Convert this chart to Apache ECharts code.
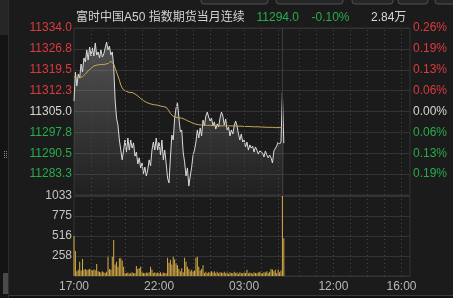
<!DOCTYPE html>
<html><head><meta charset="utf-8">
<script src="https://cdn.jsdelivr.net/npm/echarts@6/dist/echarts.min.js"></script>
<style>html,body{margin:0;padding:0;background:#1b1b1b;overflow:hidden}#c{width:453px;height:298px}</style>
</head><body><div id="c"></div>
<script>
const titleText = '富时中国A50 指数期货当月连续';
const lastPriceText = '11294.0';
const changeText = '-0.10%';
const volumeText = '2.84万';
const basePrice = 11305.0;
const stepMinutes = 5;
const sessionBreak = 735;
const axisMaxMinutes = 1185;
const priceHalfRange = 29;
const priceInterval = 7.25;
const volMax = 1033;

const prices = [
11308.6,11318.7,11313.9,11318.0,11316.6,11321.5,11318.7,11323.6,11322.2,11326.4,
11322.9,11327.4,11324.3,11327.1,11324.3,11328.8,11324.6,11325.7,11323.6,11326.4,
11323.9,11325.0,11327.1,11329.1,11326.4,11327.7,11324.6,11325.7,11320.8,11309.0,
11302.7,11300.3,11295.1,11291.6,11288.2,11291.6,11295.1,11290.9,11295.8,11291.6,
11295.1,11292.3,11294.1,11289.5,11290.9,11286.8,11288.9,11285.4,11287.1,11283.3,
11285.7,11282.6,11284.7,11288.2,11286.1,11291.6,11294.4,11291.6,11295.8,11291.6,
11294.4,11289.9,11295.1,11288.2,11291.6,11287.1,11281.9,11280.2,11288.9,11296.8,
11295.1,11302.7,11306.2,11308.0,11302.7,11297.9,11298.6,11290.9,11287.5,11282.6,
11285.4,11279.1,11282.6,11285.7,11289.9,11291.6,11294.4,11298.6,11295.8,11299.3,
11296.5,11302.0,11300.0,11303.4,11304.8,11303.1,11301.7,11302.7,11300.0,11301.4,
11298.9,11300.7,11299.6,11302.7,11304.8,11303.4,11300.3,11302.4,11298.6,11299.6,
11296.5,11298.6,11297.2,11300.0,11301.7,11300.0,11297.2,11295.1,11297.2,11294.4,
11295.1,11292.7,11294.4,11291.6,11293.4,11292.3,11293.0,11290.9,11292.7,11291.6,
11290.2,11291.3,11291.6,11290.6,11289.2,11291.3,11289.9,11288.9,11289.9,11288.9,
11287.1,11291.3,11291.6,11293.0,11294.4,11293.7,11294.4,11311.4,11294.0
];

const avgPrices = [
11317.1,11316.8,11316.6,11316.6,11316.8,11317.0,11317.1,11317.3,11318.0,11318.5,
11319.1,11319.4,11320.0,11320.5,11320.8,11321.0,11321.1,11321.2,11321.3,11321.3,
11321.3,11321.3,11321.4,11321.6,11321.7,11322.0,11322.4,11322.5,11321.5,11320.1,
11318.7,11317.3,11315.9,11314.2,11313.2,11312.5,11312.1,11312.0,11311.8,11311.6,
11311.6,11311.6,11311.4,11311.1,11310.7,11310.4,11309.9,11309.5,11309.2,11308.8,
11308.5,11308.2,11308.0,11307.8,11307.6,11307.5,11307.4,11307.3,11307.3,11307.2,
11307.0,11306.9,11306.8,11306.7,11306.6,11306.5,11306.0,11305.2,11304.3,11303.8,
11303.3,11303.1,11303.0,11302.9,11302.8,11302.7,11302.7,11302.6,11302.3,11302.0,
11301.8,11301.6,11301.4,11301.1,11300.9,11300.7,11300.6,11300.5,11300.4,11300.3,
11300.3,11300.3,11300.3,11300.2,11300.2,11300.2,11300.2,11300.2,11300.1,11300.1,
11300.1,11300.1,11300.1,11300.0,11300.0,11300.0,11300.0,11300.0,11300.0,11300.0,
11300.0,11300.0,11300.0,11300.0,11300.0,11299.9,11299.9,11299.9,11299.9,11299.9,
11299.8,11299.8,11299.8,11299.8,11299.8,11299.7,11299.7,11299.7,11299.7,11299.7,
11299.7,11299.6,11299.6,11299.6,11299.6,11299.5,11299.5,11299.5,11299.5,11299.5,
11299.5,11299.4,11299.4,11299.4,11299.4,11299.4,11299.4,11299.5,11299.4
];

const volumes = [
516,323,60,80,185,70,220,80,90,75,
85,90,80,70,85,75,155,60,55,45,
60,50,40,55,250,90,80,250,465,150,
185,120,230,230,200,120,40,35,45,30,
40,50,35,40,130,90,100,120,50,40,
35,45,40,50,120,80,40,50,35,45,
40,50,30,45,40,35,235,170,210,150,
250,215,160,140,90,60,100,50,235,185,
120,90,60,80,55,70,235,250,120,70,
90,140,40,55,35,50,45,60,45,60,
40,55,35,50,45,40,55,35,45,30,
50,40,35,55,40,45,30,50,40,35,
45,40,80,35,45,40,30,50,40,35,
45,55,40,35,50,45,60,40,55,90,
85,60,80,40,85,50,70,1033,487
];

const priceTickLabels = ['', '11283.3', '11290.5', '11297.8', '11305.0', '11312.3', '11319.5', '11326.8', '11334.0'];
const pctTickLabels = ['', '0.19%', '0.13%', '0.06%', '0.00%', '0.06%', '0.13%', '0.19%', '0.26%'];
const volTickLabels = ['', '258', '516', '775', '1033'];
const timeTickMinutes = [0, 300, 600, 915, 1155];
const timeTickLabels = ['17:00', '22:00', '03:00', '12:00', '16:00'];

const RED = '#dd3a3f', GREEN = '#27ad4c', WHITE = '#d6d6d0';
const FONT = "'Liberation Sans','Noto Sans CJK SC',sans-serif";

const hourMarks = [];
for (let m = 60; m < sessionBreak; m += 60) hourMarks.push(m);
for (let m = sessionBreak + 60; m < axisMaxMinutes; m += 60) hourMarks.push(m);
const dotStyle = { type: [1, 3], color: '#484848', width: 1 };
const markLineData = hourMarks.map(m => ({ xAxis: m, lineStyle: dotStyle }))
  .concat([{ xAxis: sessionBreak, lineStyle: { type: 'solid', color: '#3c3c3c', width: 1 } }]);
const markLineOpt = { silent: true, symbol: 'none', label: { show: false }, animation: false, data: markLineData };

const tickIdx = v => Math.round((v + priceHalfRange) / priceInterval);
const signColor = v => v > 1e-9 ? RED : (v < -1e-9 ? GREEN : WHITE);

const chart = echarts.init(document.getElementById('c'), null, { renderer: 'canvas' });
chart.setOption({
  backgroundColor: '#1b1b1b',
  animation: false,
  textStyle: { fontFamily: FONT },
  grid: [
    { left: 74, right: 43, top: 28, height: 167, show: true, borderColor: '#333', borderWidth: 1, backgroundColor: 'transparent' },
    { left: 74, right: 43, top: 196, height: 80, show: true, borderColor: '#333', borderWidth: 1, backgroundColor: 'transparent' }
  ],
  xAxis: [
    { type: 'value', gridIndex: 0, min: 0, max: axisMaxMinutes, axisLine: { show: false }, axisTick: { show: false }, axisLabel: { show: false }, splitLine: { show: false } },
    { type: 'value', gridIndex: 1, min: 0, max: axisMaxMinutes, axisLine: { show: false }, axisTick: { show: false }, splitLine: { show: false },
      axisLabel: { customValues: timeTickMinutes, margin: 5, color: '#b8b8b8', fontSize: 12, fontFamily: FONT,
        formatter: v => { const k = timeTickMinutes.indexOf(Math.round(v)); return k >= 0 ? timeTickLabels[k] : ''; } } }
  ],
  yAxis: [
    { type: 'value', gridIndex: 0, min: -priceHalfRange, max: priceHalfRange, interval: priceInterval, position: 'left',
      axisLine: { show: false }, axisTick: { show: false },
      splitLine: { show: true, lineStyle: { color: '#333', width: 1 } },
      axisLabel: { margin: 2, fontSize: 12, fontFamily: FONT, padding: [7, 0, 0, 0],
        formatter: v => priceTickLabels[tickIdx(v)] || '', color: v => signColor(v) } },
    { type: 'value', gridIndex: 0, min: -priceHalfRange, max: priceHalfRange, interval: priceInterval, position: 'right',
      axisLine: { show: false }, axisTick: { show: false }, splitLine: { show: false },
      axisLabel: { margin: 3, fontSize: 12, fontFamily: FONT, padding: [7, 0, 0, 0],
        formatter: v => pctTickLabels[tickIdx(v)] || '', color: v => signColor(v) } },
    { type: 'value', gridIndex: 1, min: 0, max: volMax, interval: volMax / 4, position: 'left',
      axisLine: { show: false }, axisTick: { show: false },
      splitLine: { show: true, lineStyle: { color: '#333', width: 1 } },
      axisLabel: { margin: 2, fontSize: 12, fontFamily: FONT, padding: [7, 0, 0, 0], color: '#c4c4c4',
        formatter: v => volTickLabels[Math.round(v / (volMax / 4))] || '' } }
  ],
  series: [
    { type: 'line', name: 'gridA', xAxisIndex: 0, yAxisIndex: 0, data: [], markLine: markLineOpt, z: 1 },
    { type: 'line', name: 'gridB', xAxisIndex: 1, yAxisIndex: 2, data: [], markLine: markLineOpt, z: 1 },
    { type: 'line', name: 'price', xAxisIndex: 0, yAxisIndex: 0, showSymbol: false, symbol: 'none',
      data: prices.map((p, i) => [i * stepMinutes, +(p - basePrice).toFixed(2)]),
      lineStyle: { color: '#dadada', width: 1 },
      areaStyle: { origin: 'start', color: new echarts.graphic.LinearGradient(0, 0, 0, 1, [
        { offset: 0, color: 'rgba(255,255,255,0.34)' }, { offset: 1, color: 'rgba(255,255,255,0.03)' }]) },
      z: 3 },
    { type: 'line', name: 'avg', xAxisIndex: 0, yAxisIndex: 0, showSymbol: false, symbol: 'none',
      data: avgPrices.map((p, i) => [i * stepMinutes, +(p - basePrice).toFixed(2)]),
      lineStyle: { color: '#c9a75c', width: 1 }, z: 4 },
    { type: 'bar', name: 'vol', xAxisIndex: 1, yAxisIndex: 2, barWidth: 1,
      data: volumes.map((v, i) => [i * stepMinutes, v]),
      itemStyle: { color: '#d6ab45' }, z: 5 }
  ],
  graphic: [
    { type: 'rect', shape: { x: 0, y: 0, width: 8, height: 298 }, style: { fill: '#141414' }, z: 0 },
    { type: 'rect', shape: { x: 0, y: 0, width: 8, height: 35 }, style: { fill: '#262626' }, z: 0 },
    { type: 'line', shape: { x1: 8.5, y1: 0, x2: 8.5, y2: 298 }, style: { stroke: '#2d2d2d', lineWidth: 1 }, z: 0 },
    { type: 'line', shape: { x1: 4.5, y1: 151, x2: 4.5, y2: 159 }, style: { stroke: '#888', lineWidth: 1, lineDash: [1, 1] }, z: 1 },
    { type: 'line', shape: { x1: 6.5, y1: 151, x2: 6.5, y2: 159 }, style: { stroke: '#888', lineWidth: 1, lineDash: [1, 1] }, z: 1 },
    { type: 'rect', shape: { x: 3, y: 273, width: 5, height: 21 }, style: { fill: '#4a4a4a' }, z: 1 },
    { type: 'rect', shape: { x: 9, y: 296, width: 444, height: 2 }, style: { fill: '#121212' }, z: 0 },
    { type: 'line', shape: { x1: 9, y1: 295.5, x2: 453, y2: 295.5 }, style: { stroke: '#3a3a3a', lineWidth: 1 }, z: 0 },
    { type: 'rect', shape: { x: 201, y: -6, width: 67, height: 10, r: 3 }, style: { fill: '#262626', stroke: '#505050', lineWidth: 1 }, z: 1 },
    { type: 'rect', shape: { x: 276, y: -6, width: 67, height: 10, r: 3 }, style: { fill: '#262626', stroke: '#505050', lineWidth: 1 }, z: 1 },
    { type: 'rect', shape: { x: 352, y: -6, width: 41, height: 10, r: 3 }, style: { fill: '#262626', stroke: '#505050', lineWidth: 1 }, z: 1 },
    { type: 'rect', shape: { x: 398, y: -6, width: 30, height: 10, r: 3 }, style: { fill: '#262626', stroke: '#505050', lineWidth: 1 }, z: 1 },
    { type: 'rect', shape: { x: 435, y: -6, width: 30, height: 10, r: 3 }, style: { fill: '#262626', stroke: '#505050', lineWidth: 1 }, z: 1 },
    { type: 'text', x: 76, y: 18, style: { text: titleText, fill: '#d2d2d2', font: "12px " + FONT, textVerticalAlign: 'middle' }, z: 5 },
    { type: 'text', x: 256.5, y: 18, style: { text: lastPriceText, fill: GREEN, font: "12px " + FONT, textVerticalAlign: 'middle' }, z: 5 },
    { type: 'text', x: 311.5, y: 18, style: { text: changeText, fill: GREEN, font: "12px " + FONT, textVerticalAlign: 'middle' }, z: 5 },
    { type: 'text', x: 371, y: 18, style: { text: volumeText, fill: '#d8d8d8', font: "12px " + FONT, textVerticalAlign: 'middle' }, z: 5 }
  ]
});
</script>
</body></html>
